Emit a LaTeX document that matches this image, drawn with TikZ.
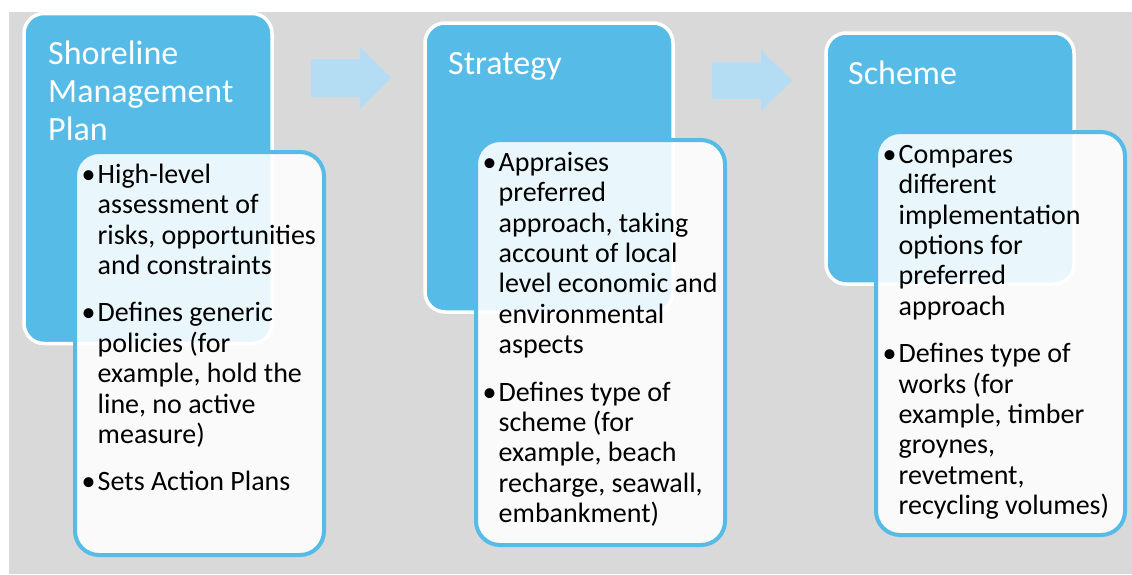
\documentclass[tikz,border=0pt]{standalone}
\usepackage{fontspec}
\setmainfont{Carlito}
\usetikzlibrary{calc}
\definecolor{skyblue}{HTML}{56BBE6}
\definecolor{paleblue}{HTML}{B4DCF3}
\definecolor{bggray}{HTML}{D9D9D9}
\tikzset{
  stagebox/.style={
    rectangle, draw=white, fill=skyblue, line width=3.5pt,
    rounded corners=20pt, minimum width=248pt,
    inner sep=0pt, outer sep=0pt, anchor=north west
  },
  infocard/.style={
    rectangle, draw=skyblue, fill=white, fill opacity=0.87, draw opacity=1,
    line width=4pt, rounded corners=24pt, minimum width=249pt,
    inner sep=0pt, outer sep=0pt, anchor=north west
  },
  stagetitle/.style={
    font=\fontsize{34}{38}\selectfont, text=white, align=left,
    inner sep=0pt, anchor=north west
  },
  cardtext/.style={
    font=\fontsize{28}{30.4}\selectfont, text=black, align=left,
    inner sep=0pt, anchor=north west
  },
  flowarrow/.style={fill=paleblue}
}
\newcommand{\bul}{\rule{0pt}{23pt}\makebox[13.5pt][l]{\hspace*{-2.5pt}\textbullet}}
\newcommand{\ind}{\hspace*{13.5pt}}
\newcommand{\ttlstrut}{\rule{0pt}{28pt}}

\begin{document}
\begin{tikzpicture}[x=1pt,y=-1pt]
  \useasboundingbox (0,0) rectangle (1132,574);
  \fill[bggray] (9,12) rectangle (1132,574);

  % Shoreline management plan
  \node[stagebox, minimum height=330pt] (smpbox) at (24,13.5) {};
  \node[stagetitle] (smptitle) at ($(smpbox.north west)+(24,22.5)$)
    {\ttlstrut Shoreline\\Management\\Plan};
  \node[infocard, minimum height=403pt] (smpcard) at (75,152) {};
  \node[cardtext] (smptext) at ($(smpcard.north west)+(9,8)$) {%
    \bul High-level\\
    \ind assessment of\\
    \ind risks, opportunities\\
    \ind and constraints\\[17pt]
    \bul Defines generic\\
    \ind policies (for\\
    \ind example, hold the\\
    \ind line, no active\\
    \ind measure)\\[17pt]
    \bul Sets Action Plans};

  % block arrows between the stages
  \coordinate (arrA) at (311,78);
  \fill[flowarrow, shift={(arrA)}]
    (0,-19) -- (49,-19) -- (49,-31) -- (80,0) -- (49,31) -- (49,19) -- (0,19) -- cycle;

  % Strategy
  \node[stagebox, minimum height=289pt] (strbox) at (425,23) {};
  \node[stagetitle] (strtitle) at ($(strbox.north west)+(23,23)$)
    {\ttlstrut Strategy};
  \node[infocard, minimum height=405pt] (strcard) at (476,140) {};
  \node[cardtext] (strtext) at ($(strcard.north west)+(9,8)$) {%
    \bul Appraises\\
    \ind preferred\\
    \ind approach, taking\\
    \ind account of local\\
    \ind level economic and\\
    \ind environmental\\
    \ind aspects\\[17pt]
    \bul Defines type of\\
    \ind scheme (for\\
    \ind example, beach\\
    \ind recharge, seawall,\\
    \ind embankment)};

  \coordinate (arrB) at (712,80.5);
  \fill[flowarrow, shift={(arrB)}]
    (0,-18.5) -- (49,-18.5) -- (49,-30.5) -- (80,0) -- (49,30.5) -- (49,18.5) -- (0,18.5) -- cycle;

  % Scheme
  \node[stagebox, minimum height=251pt] (schbox) at (826,33) {};
  \node[stagetitle] (schtitle) at ($(schbox.north west)+(22,23)$)
    {\ttlstrut Scheme};
  \node[infocard, minimum height=403pt] (schcard) at (876,132) {};
  \node[cardtext] (schtext) at ($(schcard.north west)+(9,8)$) {%
    \bul Compares\\
    \ind different\\
    \ind implementation\\
    \ind options for\\
    \ind preferred\\
    \ind approach\\[17pt]
    \bul Defines type of\\
    \ind works (for\\
    \ind example, timber\\
    \ind groynes,\\
    \ind revetment,\\
    \ind recycling volumes)};
\end{tikzpicture}
\end{document}
